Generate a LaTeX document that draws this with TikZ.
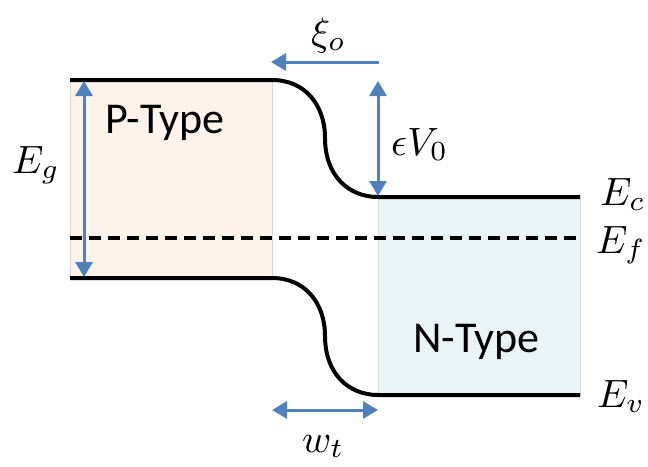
\documentclass[tikz,border=0pt]{standalone}
\usepackage{fontspec}
\setmainfont{Carlito}
\usetikzlibrary{arrows.meta}
\definecolor{arrowblue}{RGB}{79,129,189}
\definecolor{pfill}{RGB}{253,243,234}
\definecolor{nfill}{RGB}{234,244,247}
\definecolor{boxedge}{RGB}{215,215,215}
\newcommand{\largemath}[1]{\scalebox{3.95}{$#1$}}
\tikzset{
  band/.style={line width=4pt, black},
  fermi/.style={line width=4pt, black, dash pattern=on 12pt off 7pt},
  bluearrow/.style={line width=3pt, arrowblue, -{Triangle[length=15pt,width=17pt]}},
  bluedouble/.style={line width=3pt, arrowblue, {Triangle[length=15pt,width=17pt]}-{Triangle[length=15pt,width=17pt]}},
  region/.style={draw=boxedge, line width=0.8pt},
  mlabel/.style={inner sep=0pt, anchor=base west},
  tlabel/.style={inner sep=0pt, anchor=base west, font=\fontsize{44}{44}\selectfont},
}
\begin{document}
\begin{tikzpicture}[x=1pt,y=-1pt]
\useasboundingbox (0,0) rectangle (648,466);
% regions
\fill[pfill] (70,80) rectangle (272,278);
\draw[region] (70,80) rectangle (272,278);
\fill[nfill] (378,197) rectangle (580,395);
\draw[region] (378,197) rectangle (580,395);
% coordinates
\coordinate (ctl) at (70,80);
\coordinate (ctm) at (272,80);
\coordinate (cbm) at (378,197);
\coordinate (cbr) at (580,197);
\coordinate (vtl) at (70,278);
\coordinate (vtm) at (272,278);
\coordinate (vbm) at (378,395);
\coordinate (vbr) at (580,395);
\coordinate (fl) at (70,238);
\coordinate (fr) at (578,238);
% bands
\draw[band] (ctl) -- (ctm) .. controls (305,80) and (325,105) .. (325,138)
  .. controls (325,175) and (348,197) .. (cbm) -- (cbr);
\draw[band] (vtl) -- (vtm) .. controls (305,278) and (325,303) .. (325,336)
  .. controls (325,373) and (348,395) .. (vbm) -- (vbr);
\draw[fermi] (fl) -- (fr);
% arrows
\coordinate (egt) at (84,81);
\coordinate (egb) at (84,277);
\draw[bluedouble] (egt) -- (egb);
\coordinate (vt) at (378,81);
\coordinate (vb) at (378,196);
\draw[bluedouble] (vt) -- (vb);
\coordinate (xs) at (379,62);
\coordinate (xe) at (271,62);
\draw[bluearrow] (xs) -- (xe);
\coordinate (wl) at (272,410);
\coordinate (wr) at (378,410);
\draw[bluedouble] (wl) -- (wr);
% labels
\node[tlabel] (ptype) at (105,133) {P-Type};
\node[tlabel] (ntype) at (413,352) {N-Type};
\node[mlabel] (eg) at (12,173) {\largemath{E_g}};
\node[mlabel] (ev0) at (391,155) {\largemath{\epsilon V_0}};
\node[mlabel] (ec) at (600,205) {\largemath{E_c}};
\node[mlabel] (ef) at (596,253) {\largemath{E_f}};
\node[mlabel] (evl) at (597,407) {\largemath{E_v}};
\node[mlabel] (wt) at (302,452) {\largemath{w_t}};
\node[mlabel] (xi) at (311,45) {\largemath{\xi_o}};
\end{tikzpicture}
\end{document}
